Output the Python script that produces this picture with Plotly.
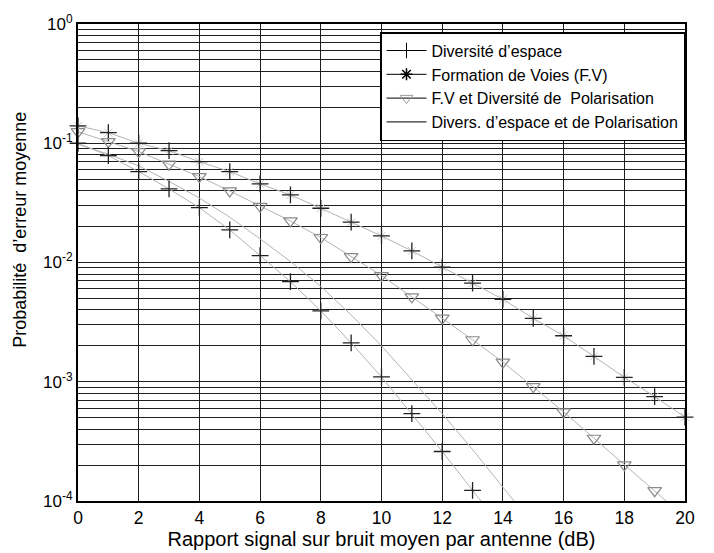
import plotly.graph_objects as go

# ---- data ----
snr_db = list(range(0, 21))

# Formation de Voies (F.V)  (*)
fv = [0.14, 0.1227, 0.100, 0.0867, 0.070, 0.0578, 0.0456, 0.0369, 0.0285, 0.0218,
      0.0167, 0.0125, 0.00912, 0.00671, 0.00492, 0.0034, 0.00243, 0.00163, 0.00109,
      0.00075, 0.000505]

# F.V et Diversité de Polarisation  (v)
fv_pol = [0.125, 0.103, 0.0851, 0.0667, 0.0525, 0.0398, 0.0296, 0.0223, 0.0162, 0.0112,
          0.00777, 0.00515, 0.00341, 0.00225, 0.00146, 0.00091, 0.00056, 0.000336,
          0.000201, 0.000122, 0.000073]

# Diversité d'espace  (+)
snr_esp = list(range(0, 15))
esp = [0.1, 0.0787, 0.0578, 0.0414, 0.0288, 0.01876, 0.01143, 0.0069, 0.00393, 0.00212,
       0.0011, 0.00054, 0.00026, 0.000123, 0.000058]

# Divers. d'espace et de Polarisation  (line only)
snr_esp_pol = list(range(0, 16))
esp_pol = [0.098, 0.081, 0.0646, 0.0479, 0.0347, 0.024, 0.0158, 0.0102, 0.0063, 0.00363,
           0.0020, 0.00105, 0.00054, 0.00027, 0.000132, 0.000063]

names = ["Diversité d’espace", "Formation de Voies (F.V)",
         "F.V et Diversité de  Polarisation", "Divers. d’espace et de Polarisation"]

y_min, y_max = 1e-4, 1.0
x_ticks = list(range(0, 21, 2))
y_tickvals = [1e-4, 1e-3, 1e-2, 1e-1, 1]
y_ticktext = ["10<sup>-4</sup>", "10<sup>-3</sup>", "10<sup>-2</sup>",
              "10<sup>-1</sup>", "10<sup>0</sup>"]

LINE_GREY = "#b4b4b4"
FONT = "Liberation Sans, Arial, Helvetica, sans-serif"


def in_range(vals):
    return [v if (v is not None and y_min <= v <= y_max) else None for v in vals]


def mk(symbol, size, color, width):
    return dict(symbol=symbol, size=size, color=color, line=dict(color=color, width=width))


fig = go.Figure()

# grey curves
for xs, ys in [(snr_db, fv), (snr_db, fv_pol), (snr_esp, esp), (snr_esp_pol, esp_pol)]:
    fig.add_trace(go.Scatter(x=xs, y=ys, mode="lines", showlegend=False,
                             line=dict(color=LINE_GREY, width=1), hoverinfo="skip"))

# markers: F.V -> asterisk (black '+' strokes, faint diagonals)
fig.add_trace(go.Scatter(x=snr_db, y=in_range(fv), mode="markers", showlegend=False,
                         cliponaxis=False, marker=mk("x-thin-open", 8, "#c8c8c8", 1)))
fig.add_trace(go.Scatter(x=snr_db, y=in_range(fv), mode="markers", showlegend=False,
                         cliponaxis=False, marker=mk("cross-thin-open", 12, "#222222", 1.3)))
# markers: F.V + polar -> triangle down
fig.add_trace(go.Scatter(x=snr_db, y=in_range(fv_pol), mode="markers", showlegend=False,
                         cliponaxis=False, marker=mk("triangle-down-open", 12, "#8a8a8a", 1.2)))
# markers: space diversity -> +
fig.add_trace(go.Scatter(x=snr_esp, y=in_range(esp), mode="markers", showlegend=False,
                         cliponaxis=False, marker=mk("cross-thin-open", 12, "#222222", 1.3)))

# legend entries
fig.add_trace(go.Scatter(x=[None], y=[None], mode="lines+markers", name=names[0],
                         line=dict(color="black", width=1),
                         marker=mk("cross-thin-open", 11, "black", 1)))
fig.add_trace(go.Scatter(x=[None], y=[None], mode="lines+markers", name=names[1],
                         line=dict(color="black", width=1),
                         marker=mk("asterisk-open", 10, "black", 1.5)))
fig.add_trace(go.Scatter(x=[None], y=[None], mode="lines+markers", name=names[2],
                         line=dict(color="black", width=1),
                         marker=mk("triangle-down-open", 11, "#999999", 1)))
fig.add_trace(go.Scatter(x=[None], y=[None], mode="lines", name=names[3],
                         line=dict(color="black", width=1)))

minor_y = [m * 10.0 ** e for e in range(-4, 0) for m in range(2, 10)]

# the page body adds an 8px margin, so the figure is 706x545 with the plot at 78..685 / 24..501
fig.update_layout(
    width=706, height=545,
    margin=dict(l=70, r=29, t=16, b=52, autoexpand=False),
    paper_bgcolor="white", plot_bgcolor="white",
    font=dict(family=FONT, size=16, color="black"),
    showlegend=True,
    legend=dict(x=1.0, y=0.983, xanchor="right", yanchor="top",
                bgcolor="white", bordercolor="black", borderwidth=1.5,
                font=dict(family=FONT, size=16, color="black"),
                itemwidth=40, tracegroupgap=0),
    annotations=[dict(text="Probabilité  d’erreur moyenne", textangle=-90,
                      xref="paper", yref="paper", x=-0.096, y=0.568,
                      xanchor="center", yanchor="middle", showarrow=False,
                      font=dict(family=FONT, size=18, color="black"))],
)

fig.update_xaxes(
    range=[0, 20], tickvals=x_ticks, ticktext=[str(t) for t in x_ticks],
    showgrid=True, gridcolor="#1e1e1e", gridwidth=1,
    showline=True, linecolor="black", linewidth=2, mirror=True,
    ticks="", zeroline=False, automargin=False,
    tickfont=dict(size=17.5),
    title=dict(text="Rapport signal sur bruit moyen par antenne (dB)",
               font=dict(size=20), standoff=2),
)
fig.update_yaxes(
    type="log", range=[-4, 0], tickvals=y_tickvals, ticktext=y_ticktext,
    showgrid=True, gridcolor="#1e1e1e", gridwidth=1,
    minor=dict(tickvals=minor_y, showgrid=True, gridcolor="#1e1e1e", gridwidth=1, ticks=""),
    showline=True, linecolor="black", linewidth=2, mirror=True,
    ticks="", zeroline=False, automargin=False,
    tickfont=dict(size=17),
)

fig.write_html("out.html")
